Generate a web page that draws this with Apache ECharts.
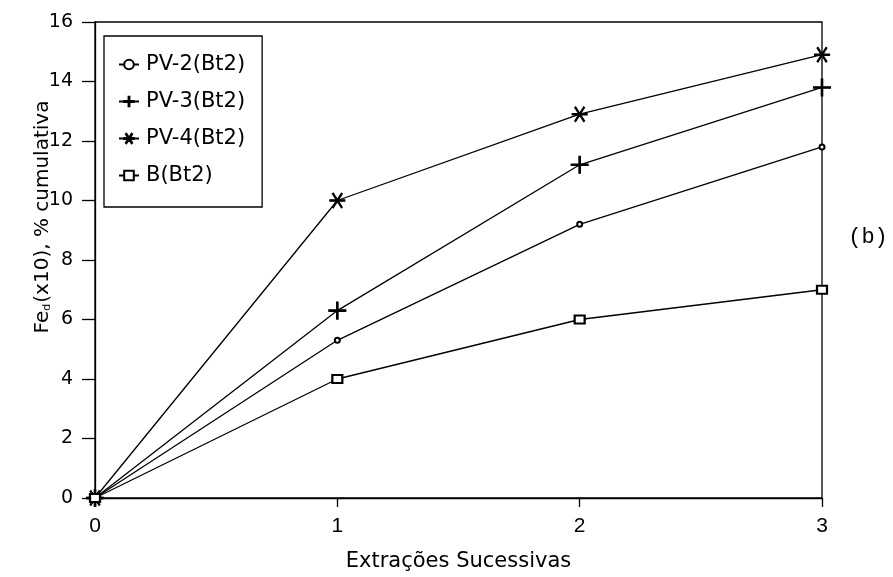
<!DOCTYPE html>
<html>
<head>
<meta charset="utf-8">
<script src="https://cdn.jsdelivr.net/npm/echarts@6/dist/echarts.min.js"></script>
<style>
  html, body { margin: 0; padding: 0; background: #fff; }
  #chart { width: 893px; height: 577px; }
</style>
</head>
<body>
<div id="chart"></div>
<script>
// Successive extractions (x) and cumulative Fe_d (x10) per profile
const extractions = [0, 1, 2, 3];
const pv2 = [0, 5.3, 9.2, 11.8];
const pv3 = [0, 6.3, 11.2, 13.8];
const pv4 = [0, 10.0, 12.9, 14.9];
const bBt2 = [0, 4.0, 6.0, 7.0];
const seriesNames = ['PV-2(Bt2)', 'PV-3(Bt2)', 'PV-4(Bt2)', 'B(Bt2)'];
const yTicks = [0, 2, 4, 6, 8, 10, 12, 14, 16];
const xTicks = [0, 1, 2, 3];

const FONT = '"DejaVu Sans", "Liberation Sans", sans-serif';
const NARROW = '"Liberation Sans Narrow", "Liberation Sans", sans-serif';

// marker shapes drawn as filled thin bars
const plusPath = 'path://M-0.9,-10L0.9,-10L0.9,10L-0.9,10Z M-10,-0.9L10,-0.9L10,0.9L-10,0.9Z';
const starPath = 'path://M-10,-0.8L10,-0.8L10,0.8L-10,0.8Z ' +
  'M-5.36,-8.48L6.64,7.52L5.36,8.48L-6.64,-7.52Z ' +
  'M6.64,-7.52L-5.36,8.48L-6.64,7.52L5.36,-8.48Z';

function pairs(vals) { return extractions.map((x, i) => [x, vals[i]]); }

function lineSeries(name, vals, symbol, size) {
  return {
    name: name,
    type: 'line',
    data: pairs(vals),
    symbol: symbol,
    symbolSize: size,
    showAllSymbol: true,
    lineStyle: { color: '#000', width: 1.3 },
    itemStyle: { color: '#000', borderColor: '#000', borderWidth: 1.1 },
    emphasis: { disabled: true },
    z: 3
  };
}

const chart = echarts.init(document.getElementById('chart'), null, { renderer: 'canvas' });

chart.setOption({
  animation: false,
  backgroundColor: '#fff',
  grid: {
    left: 95, right: 71, top: 22, bottom: 78,
    show: true, borderColor: '#000', borderWidth: 1.3, backgroundColor: 'transparent'
  },
  legend: {
    orient: 'vertical',
    left: 104, top: 36,
    padding: [18, 17, 21, 14],
    itemGap: 16,
    itemWidth: 20, itemHeight: 12,
    borderColor: '#000', borderWidth: 1.3,
    backgroundColor: '#fff',
    data: seriesNames,
    textStyle: { fontFamily: FONT, fontSize: 21, color: '#000', padding: [0, 0, 0, 2] }
  },
  xAxis: {
    type: 'value',
    min: xTicks[0], max: xTicks[xTicks.length - 1], interval: 1,
    axisLine: { show: true, onZero: false, lineStyle: { color: '#000', width: 1.3 } },
    axisTick: { show: true, inside: false, length: 9, lineStyle: { color: '#000', width: 1.3 } },
    axisLabel: { fontFamily: NARROW, fontSize: 21, color: '#000', margin: 18 },
    splitLine: { show: false },
    name: 'Extrações Sucessivas',
    nameLocation: 'middle',
    nameGap: 53,
    nameTextStyle: { fontFamily: FONT, fontSize: 21, color: '#000' }
  },
  yAxis: {
    type: 'value',
    min: yTicks[0], max: yTicks[yTicks.length - 1], interval: 2,
    axisLine: { show: true, onZero: false, lineStyle: { color: '#000', width: 1.3 } },
    axisTick: { show: true, inside: false, length: 13, lineStyle: { color: '#000', width: 1.3 } },
    axisLabel: { fontFamily: FONT, fontSize: 19, color: '#000', margin: 22 },
    splitLine: { show: false }
  },
  graphic: [
    {
      type: 'text',
      x: 43, y: 217,
      rotation: Math.PI / 2,
      style: {
        text: '{n|Fe}{s|d}{n|(x10), % cumulativa}',
        align: 'center', verticalAlign: 'middle',
        fill: '#000',
        rich: {
          n: { fontFamily: FONT, fontSize: 20, fill: '#000' },
          s: { fontFamily: FONT, fontSize: 11, fill: '#000', padding: [9, 1, 0, 0] }
        }
      }
    },
    {
      type: 'text',
      x: 868, y: 237,
      style: {
        text: '(b)',
        align: 'center', verticalAlign: 'middle',
        fill: '#000',
        font: '22px "Liberation Mono", "DejaVu Sans Mono", monospace'
      }
    }
  ],
  series: [
    lineSeries(seriesNames[0], pv2, 'emptyCircle', 5),
    lineSeries(seriesNames[1], pv3, plusPath, 17),
    lineSeries(seriesNames[2], pv4, starPath, 15),
    lineSeries(seriesNames[3], bBt2, 'emptyRect', [10, 8])
  ]
});
</script>
</body>
</html>
